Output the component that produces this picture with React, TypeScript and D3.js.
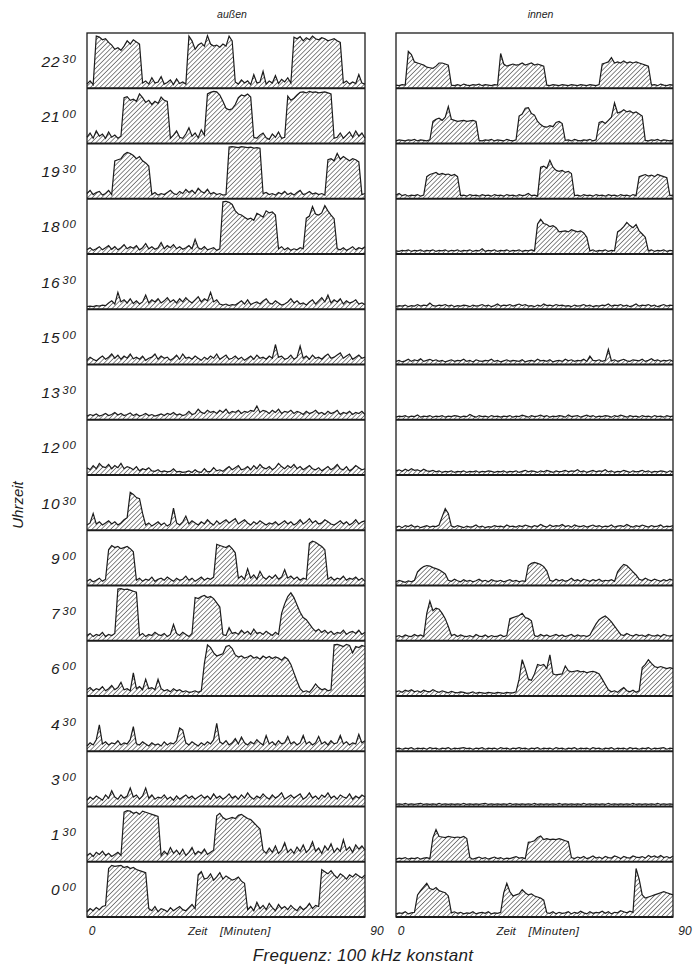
import React from "react";
import * as d3 from "d3";

// ---------- labels ----------
const hourLabels = ["22", "21", "19", "18", "16", "15", "13", "12", "10", "9", "7", "6", "4", "3", "1", "0"];
const minuteLabels = ["30", "00", "30", "00", "30", "00", "30", "00", "30", "00", "30", "00", "30", "00", "30", "00"];
const panelTitles = ["außen", "innen"];
const xTickLabels = ["0", "90"];
const xAxisWord = "Zeit";
const xAxisUnit = "[Minuten]";
const yAxisTitle = "Uhrzeit";
const caption = "Frequenz:  100 kHz  konstant";

// ---------- data: activity per minute (0..90), % of row height ----------
// außen
const aussen2230 = [6,12,5,97,95,90,92,85,80,72,75,70,78,88,82,90,86,82,8,12,6,18,8,10,20,6,9,14,5,16,7,10,6,97,88,72,80,84,78,98,82,78,80,76,82,78,97,88,10,6,14,8,12,5,24,8,10,30,6,12,8,22,7,15,10,18,8,95,92,96,88,94,90,97,92,90,94,92,88,90,92,88,85,8,12,6,10,7,24,8,6];
const aussen2100 = [10,18,8,22,12,16,8,20,10,14,8,12,85,87,80,82,78,92,85,76,80,72,78,74,86,80,78,8,14,22,10,8,16,28,12,18,9,24,14,92,95,97,96,90,78,65,62,64,72,85,90,88,92,86,10,8,14,18,9,6,16,10,20,8,10,88,80,84,90,95,96,94,97,95,96,94,95,96,94,92,8,10,18,8,14,20,10,22,12,18,8];
const aussen1930 = [8,14,6,10,12,5,8,14,6,70,72,74,82,86,84,80,74,78,70,66,60,6,10,5,8,6,10,14,8,6,12,8,16,10,14,8,18,12,9,16,7,10,6,8,5,6,96,97,96,95,97,96,95,96,94,95,94,8,10,6,8,5,10,7,12,6,9,5,10,14,6,8,12,7,9,6,8,5,72,74,70,84,73,78,74,70,74,72,68,6,8];
const aussen1800 = [6,10,5,8,12,6,10,14,7,12,6,10,16,8,12,9,14,6,10,18,8,12,7,10,20,8,14,10,16,8,12,7,10,14,8,26,10,7,12,6,8,10,5,8,97,98,96,92,80,74,72,68,64,66,62,75,72,68,80,76,78,72,8,12,6,10,5,8,6,10,8,66,70,88,74,72,76,90,80,72,65,8,6,10,5,8,12,6,10,8,12];
const aussen1630 = [3,4,3,5,4,6,5,10,14,8,30,12,16,10,18,9,14,8,12,25,10,16,12,18,10,14,20,12,16,10,18,12,20,14,10,16,22,12,18,14,30,12,16,8,6,8,5,7,6,10,14,8,16,7,10,12,8,14,18,10,8,14,10,6,8,12,18,10,14,8,10,6,12,16,8,14,20,12,25,10,16,12,18,8,14,10,12,16,8,10,7];
const aussen1500 = [6,12,8,5,10,14,8,12,18,10,16,8,14,10,18,9,12,8,14,6,10,12,18,8,14,10,12,6,10,16,8,18,10,12,8,14,10,6,12,8,14,10,18,8,12,16,8,10,14,8,12,6,10,14,8,16,10,12,8,14,10,36,12,14,8,10,16,8,12,33,10,14,8,16,10,12,8,14,18,10,12,16,20,10,14,18,8,12,16,10,12];
const aussen1330 = [5,8,6,9,5,7,10,6,8,12,7,10,6,8,11,6,9,5,7,10,6,8,5,7,9,6,10,8,12,7,9,6,8,14,8,10,18,12,10,16,12,14,10,16,12,18,10,14,12,16,10,14,12,16,14,24,12,16,14,10,16,12,18,10,14,12,16,10,14,12,8,14,10,12,16,10,12,8,14,10,12,16,8,12,10,14,8,12,10,14,8];
const aussen1200 = [12,8,16,10,20,14,12,18,10,16,12,20,10,14,12,8,14,6,10,8,12,6,5,8,4,6,4,5,10,4,5,3,4,6,3,8,4,3,10,4,5,12,6,8,5,10,14,8,12,16,8,10,14,8,16,10,18,12,10,14,8,12,20,14,10,16,12,18,10,14,8,12,16,10,8,12,6,10,14,8,12,18,10,8,14,6,10,16,12,8,10];
const aussen1030 = [8,12,30,10,14,8,12,16,10,14,8,12,18,22,70,66,60,58,30,8,12,6,10,14,8,12,6,10,40,12,8,14,25,10,16,12,8,14,10,18,12,8,16,10,14,18,12,16,20,10,14,18,12,8,14,10,16,12,8,12,10,14,8,12,16,10,14,8,12,18,10,14,20,12,16,10,12,18,14,10,8,12,16,10,14,8,12,18,10,14,16];
const aussen0900 = [6,10,5,8,12,6,10,66,74,70,72,68,70,72,68,62,8,12,6,10,8,14,6,10,12,8,14,10,6,12,8,10,16,8,12,6,10,14,8,12,10,14,76,74,72,70,74,68,60,12,16,10,30,12,18,10,25,14,10,16,12,18,10,14,28,12,16,10,14,8,12,10,78,82,80,76,72,66,10,14,8,12,10,16,8,12,10,14,8,12,6];
const aussen0730 = [8,12,6,10,8,14,6,10,8,12,96,97,95,96,94,92,90,8,12,6,10,8,14,10,8,12,6,10,29,12,8,14,10,6,12,80,78,82,84,80,82,78,70,62,10,8,23,12,14,10,18,12,16,10,20,12,14,10,16,12,8,14,10,50,68,82,89,80,66,52,42,38,30,22,16,20,14,18,12,16,10,14,12,18,10,14,16,12,18,10,14];
const aussen0600 = [10,14,8,12,10,16,8,12,18,10,14,24,10,12,8,42,12,16,10,30,12,14,10,30,12,8,10,6,12,8,10,6,8,5,6,8,5,8,60,95,90,80,74,76,78,92,94,88,76,72,74,70,72,75,70,72,68,74,70,73,69,72,70,66,72,68,58,42,26,12,6,8,5,12,21,14,10,12,8,10,95,96,94,92,96,94,80,92,90,94,92];
const aussen0430 = [8,14,10,20,48,12,16,10,14,12,18,10,14,12,20,45,12,10,16,12,8,14,10,12,8,16,10,14,12,18,42,38,14,10,16,12,8,14,10,16,12,20,51,16,12,18,10,14,22,12,25,14,10,16,12,20,14,10,28,12,16,10,18,12,14,26,12,16,10,14,28,12,16,10,14,26,12,16,10,18,12,14,28,12,16,10,14,12,30,14,18];
const aussen0300 = [10,16,12,18,14,10,20,14,28,16,12,20,14,18,33,16,20,12,18,33,14,20,12,16,14,20,12,16,10,18,12,16,20,14,18,12,16,20,14,18,12,22,14,18,12,16,22,14,18,12,20,14,24,16,12,18,14,22,16,12,20,14,18,24,12,16,20,14,18,22,12,16,24,14,18,12,20,16,24,14,18,12,20,16,14,22,12,18,14,20,16];
const aussen0130 = [10,14,8,16,12,18,10,14,8,12,16,10,92,95,94,90,92,88,94,92,90,88,86,84,10,18,12,25,14,20,12,22,10,16,25,12,18,14,22,12,16,20,85,90,82,78,80,82,80,86,88,84,80,78,72,66,60,20,14,24,16,28,14,20,34,16,22,14,26,18,30,16,22,36,18,24,14,28,20,32,16,24,18,40,20,26,16,30,22,28,20];
const aussen0000 = [8,14,10,16,12,18,20,90,96,94,95,96,92,94,90,92,88,86,84,82,14,10,18,8,14,12,8,16,10,14,18,12,10,16,22,14,78,84,70,72,80,68,74,82,70,76,72,68,70,74,66,62,12,18,10,26,14,20,12,24,16,10,22,14,18,12,20,14,10,18,12,16,24,14,20,18,88,84,80,86,78,72,80,76,70,78,74,80,76,72,78];

// innen
const innen2230 = [4,3,5,4,68,62,48,46,44,42,38,37,36,40,46,46,44,42,4,3,5,3,6,4,3,5,4,6,3,5,4,3,5,4,64,44,40,42,44,42,43,46,42,44,46,42,44,42,40,4,3,5,4,3,5,4,3,5,4,3,5,4,3,5,4,3,5,44,46,48,56,46,48,46,50,46,48,46,48,46,44,42,40,4,5,3,6,4,3,5,4];
const innen2100 = [3,5,4,3,5,4,6,3,5,4,3,5,40,44,46,42,48,68,44,42,40,41,42,40,41,42,40,4,3,5,4,6,3,5,4,3,6,4,3,5,50,54,65,66,55,52,40,34,30,29,32,30,38,40,36,4,5,3,6,4,3,5,4,6,3,5,38,40,36,42,48,75,56,58,62,58,60,56,58,54,50,4,3,5,4,6,3,5,4,3,5];
const innen1930 = [5,8,4,6,3,5,4,6,3,5,40,44,46,48,44,46,44,45,42,44,40,4,5,3,6,4,5,3,6,4,5,3,6,4,5,3,6,4,5,3,6,4,5,8,4,5,3,58,60,56,71,58,52,50,52,48,50,46,4,5,3,6,4,5,3,6,4,5,3,6,4,5,3,6,4,5,3,6,4,40,42,44,41,43,40,44,42,40,38,4,5];
const innen1800 = [4,3,5,4,6,3,5,4,6,3,5,4,6,3,5,4,6,3,5,4,6,3,5,4,6,3,5,4,8,3,5,4,6,3,5,4,6,3,5,4,6,3,5,4,6,4,55,64,56,54,50,52,48,40,41,42,40,44,42,40,42,38,30,4,6,3,5,4,6,3,5,4,40,44,50,58,52,48,54,42,36,30,4,6,3,5,4,6,3,5,4];
const innen1630 = [3,5,4,6,3,5,4,7,4,6,5,10,5,4,6,5,7,4,6,3,5,4,6,5,3,6,4,5,7,4,6,3,5,8,4,6,5,7,4,6,8,5,7,4,5,3,6,4,8,5,6,4,7,5,6,4,5,3,6,4,5,7,4,6,3,5,4,6,5,8,4,6,5,7,4,6,3,5,8,4,6,5,7,4,6,3,5,7,4,6,5];
const innen1500 = [4,6,3,5,8,4,7,5,9,4,6,8,5,7,4,6,3,5,7,4,6,5,8,4,6,3,7,5,4,6,5,8,4,6,3,5,7,4,6,5,4,7,3,5,6,4,8,5,6,4,7,3,5,6,4,8,5,7,4,6,5,8,4,14,6,5,7,4,6,27,5,7,4,6,8,5,4,7,6,5,8,4,6,9,5,7,4,6,5,7,4];
const innen1330 = [3,5,4,6,3,5,4,7,3,5,4,6,3,5,4,6,3,5,4,6,5,3,5,4,8,5,3,6,4,5,3,6,4,5,3,5,4,6,3,5,4,7,5,3,6,4,5,7,4,6,3,5,4,6,5,3,7,4,5,6,3,5,7,4,6,3,5,4,6,5,3,6,4,7,5,3,6,4,5,3,6,4,5,3,6,4,5,3,6,4,5];
const innen1200 = [6,8,5,9,6,10,7,8,5,9,6,5,7,4,6,3,5,4,6,3,5,4,6,3,5,4,6,3,5,4,6,5,3,5,4,6,3,5,4,6,3,5,7,4,6,5,3,6,4,7,5,3,6,4,5,7,4,6,5,8,4,6,3,5,7,4,6,5,8,4,6,3,5,4,7,5,3,6,4,5,7,4,6,3,5,4,6,5,3,6,4];
const innen1030 = [4,6,3,7,5,8,4,6,3,5,7,4,6,5,8,24,39,30,6,4,7,5,3,6,4,5,8,4,6,3,5,4,7,5,6,4,8,5,6,4,7,5,8,6,4,7,5,9,6,4,8,5,7,6,9,5,7,4,8,6,5,7,4,6,8,5,7,4,6,5,8,4,6,7,5,9,6,4,7,5,8,6,4,7,5,6,8,4,6,5,7];
const innen0900 = [5,8,6,4,7,5,8,24,30,34,36,35,32,30,28,24,20,8,6,10,7,5,9,6,8,5,7,10,6,8,5,9,7,6,8,5,7,9,6,8,5,7,6,36,40,42,40,38,34,26,8,6,10,7,9,6,8,12,7,9,6,10,8,6,9,7,10,6,8,7,9,6,24,32,38,36,30,24,18,10,8,12,9,7,10,8,6,9,7,10,8];
const innen0730 = [6,8,5,9,7,6,10,7,9,6,50,73,55,60,58,50,40,25,8,10,6,9,7,6,8,5,10,7,6,9,5,8,6,7,9,6,8,40,42,44,46,50,42,40,36,8,6,10,7,9,6,8,10,7,9,6,8,10,6,9,7,8,6,9,20,30,38,42,45,40,34,26,18,10,8,12,9,7,10,8,9,6,10,8,7,9,6,10,8,7,9];
const innen0600 = [6,8,5,9,7,10,6,8,5,9,7,6,10,7,5,8,6,4,7,5,4,6,5,3,4,6,3,5,4,3,5,4,3,5,4,3,5,4,4,6,30,67,50,30,28,40,58,56,58,50,76,40,38,39,40,55,46,44,45,46,44,45,42,44,45,43,40,30,20,10,6,8,5,10,14,8,6,9,5,8,52,58,67,60,54,52,54,52,50,52,50];
const innen0430 = [3,4,2,4,3,5,2,4,3,4,2,5,3,4,2,4,3,5,2,4,3,4,5,3,4,2,4,3,5,2,4,3,4,2,5,3,4,2,4,3,5,3,4,2,4,3,5,2,4,3,4,2,5,3,4,2,4,3,5,2,4,3,4,2,5,3,4,2,4,3,5,2,4,3,4,2,5,3,4,2,4,3,5,2,4,3,4,5,2,4,3];
const innen0300 = [2,3,2,4,2,3,2,3,4,2,3,2,3,2,4,2,3,2,3,2,3,2,4,2,3,2,3,2,3,4,2,3,2,3,2,3,2,4,2,3,2,3,2,3,2,4,2,3,2,3,2,3,2,4,2,3,2,3,2,3,2,4,2,3,2,3,2,3,2,4,2,3,2,3,2,3,2,4,2,3,2,3,2,3,2,4,2,3,2,3,2];
const innen0130 = [3,5,4,6,3,5,4,6,3,5,6,4,44,59,46,45,44,46,45,44,45,44,46,42,6,3,5,7,4,6,3,5,7,4,6,3,5,4,6,8,5,6,4,35,36,38,44,47,40,42,40,41,40,42,40,38,36,6,4,7,5,8,4,6,9,5,7,4,8,6,5,9,7,4,8,6,5,9,7,6,8,5,10,7,9,6,10,6,8,5,9];
const innen0000 = [4,6,5,8,4,6,7,40,48,55,62,52,50,54,48,46,44,38,6,8,5,7,4,6,5,8,4,6,7,5,8,4,6,5,7,44,62,46,38,40,42,50,44,40,42,38,36,34,30,6,5,8,4,7,5,6,8,4,7,5,9,6,4,8,5,7,6,9,5,8,4,7,6,10,8,6,9,7,90,70,40,34,36,38,40,42,44,46,44,42,40];

const aussenRows = [aussen2230, aussen2100, aussen1930, aussen1800, aussen1630, aussen1500, aussen1330, aussen1200, aussen1030, aussen0900, aussen0730, aussen0600, aussen0430, aussen0300, aussen0130, aussen0000];
const innenRows = [innen2230, innen2100, innen1930, innen1800, innen1630, innen1500, innen1330, innen1200, innen1030, innen0900, innen0730, innen0600, innen0430, innen0300, innen0130, innen0000];

// ---------- layout ----------
const W = 698;
const H = 969;
const TOP = 33;
const BOTTOM = 917;
const panels = [
  { x0: 87, x1: 365, rows: aussenRows, title: panelTitles[0] },
  { x0: 396, x1: 673, rows: innenRows, title: panelTitles[1] },
];
const INK = "#1c1c1c";
const FONT = "'Liberation Sans', Arial, sans-serif";

export default function App() {
  const nRows = hourLabels.length;
  const band = d3.scaleBand<number>().domain(d3.range(nRows)).range([TOP, BOTTOM]).paddingInner(0);
  const rowH = band.bandwidth();

  return (
    <svg
      width={W}
      height={H}
      viewBox={`0 0 ${W} ${H}`}
      style={{ position: "absolute", left: 0, top: 0, background: "#fff" }}
    >
      <defs>
        <pattern id="hatch" patternUnits="userSpaceOnUse" width={3.3} height={3.3} patternTransform="rotate(45)">
          <line x1={0} y1={0} x2={0} y2={3.3} stroke={INK} strokeWidth={1.05} />
        </pattern>
      </defs>
      <rect x={0} y={0} width={W} height={H} fill="#fff" />

      {panels.map((p, pi) => {
        const x = d3.scaleLinear().domain([0, 90]).range([p.x0, p.x1]);
        const mid = (p.x0 + p.x1) / 2;
        return (
          <g key={pi}>
            <text x={mid + 6} y={18} textAnchor="middle" fontFamily={FONT} fontStyle="italic" fontSize={10.5} fill={INK}>
              {p.title}
            </text>
            {p.rows.map((vals, ri) => {
              const top = band(ri)!;
              const base = top + rowH;
              const y = d3.scaleLinear().domain([0, 100]).range([base - 1, top + 1.5]);
              const area = d3
                .area<number>()
                .x((_, i) => x(i))
                .y0(base)
                .y1((d) => y(d))
                .curve(d3.curveLinear);
              const line = d3
                .line<number>()
                .x((_, i) => x(i))
                .y((d) => y(d))
                .curve(d3.curveLinear);
              return (
                <g key={ri}>
                  <path d={area(vals) || ""} fill="url(#hatch)" stroke="none" />
                  <path d={line(vals) || ""} fill="none" stroke={INK} strokeWidth={1.2} strokeLinejoin="miter" />
                  <line x1={p.x0} x2={p.x1} y1={base} y2={base} stroke={INK} strokeWidth={2} />
                </g>
              );
            })}
            <rect x={p.x0} y={TOP} width={p.x1 - p.x0} height={BOTTOM - TOP} fill="none" stroke={INK} strokeWidth={1.3} />
            <text x={x(0) + 5} y={935} textAnchor="middle" fontFamily={FONT} fontStyle="italic" fontSize={12} fill={INK}>
              {xTickLabels[0]}
            </text>
            <text x={mid - 38} y={935} textAnchor="start" fontFamily={FONT} fontStyle="italic" fontSize={11.5} fill={INK}>
              {xAxisWord}
            </text>
            <text x={mid - 6} y={935} textAnchor="start" fontFamily={FONT} fontStyle="italic" fontSize={11.5} fill={INK} letterSpacing={0.4}>
              {xAxisUnit}
            </text>
            <text x={x(90) + 12} y={935} textAnchor="middle" fontFamily={FONT} fontStyle="italic" fontSize={12} fill={INK}>
              {xTickLabels[1]}
            </text>
          </g>
        );
      })}

      {hourLabels.map((h, i) => {
        const cy = band(i)! + rowH / 2;
        return (
          <text
            key={i}
            x={77}
            y={cy + 6}
            textAnchor="end"
            fontFamily={FONT}
            fontStyle="italic"
            fontSize={15.5}
            letterSpacing={1}
            fill={INK}
          >
            {h}
            <tspan fontSize={11.5} dy={-4} dx={1.5}>
              {minuteLabels[i]}
            </tspan>
          </text>
        );
      })}

      <text
        transform={`translate(23, 505) rotate(-90)`}
        textAnchor="middle"
        fontFamily={FONT}
        fontStyle="italic"
        fontSize={15}
        fill={INK}
      >
        {yAxisTitle}
      </text>

      <text x={363} y={961} textAnchor="middle" fontFamily={FONT} fontStyle="italic" fontSize={17} letterSpacing={0.3} fill={INK}>
        {caption}
      </text>
    </svg>
  );
}
